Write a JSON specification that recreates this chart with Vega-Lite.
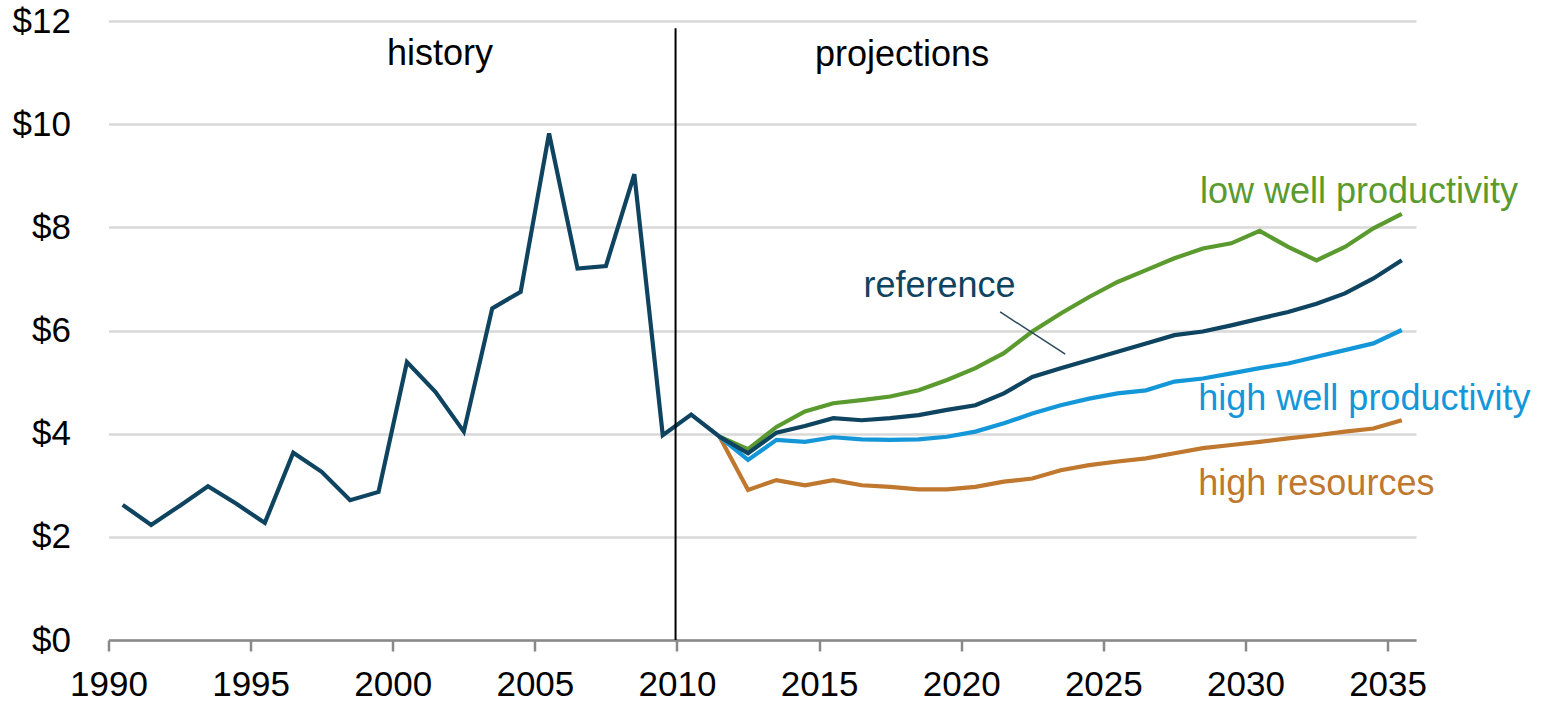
{
  "$schema": "https://vega.github.io/schema/vega-lite/v6.json",
  "autosize": {"type": "none"},
  "width": 1307.5,
  "height": 619,
  "padding": {"left": 108.5, "top": 21, "right": 140, "bottom": 64},
  "background": "white",
  "config": {"view": {"stroke": null}, "font": "Liberation Sans"},
  "datasets": {
    "prices": [
      {"series": "high resources", "year": 2011, "price": 3.94},
      {"series": "high resources", "year": 2012, "price": 2.91},
      {"series": "high resources", "year": 2013, "price": 3.10},
      {"series": "high resources", "year": 2014, "price": 3.00},
      {"series": "high resources", "year": 2015, "price": 3.10},
      {"series": "high resources", "year": 2016, "price": 3.00},
      {"series": "high resources", "year": 2017, "price": 2.97},
      {"series": "high resources", "year": 2018, "price": 2.92},
      {"series": "high resources", "year": 2019, "price": 2.92},
      {"series": "high resources", "year": 2020, "price": 2.97},
      {"series": "high resources", "year": 2021, "price": 3.07},
      {"series": "high resources", "year": 2022, "price": 3.13},
      {"series": "high resources", "year": 2023, "price": 3.29},
      {"series": "high resources", "year": 2024, "price": 3.39},
      {"series": "high resources", "year": 2025, "price": 3.46},
      {"series": "high resources", "year": 2026, "price": 3.52},
      {"series": "high resources", "year": 2027, "price": 3.62},
      {"series": "high resources", "year": 2028, "price": 3.72},
      {"series": "high resources", "year": 2029, "price": 3.78},
      {"series": "high resources", "year": 2030, "price": 3.84},
      {"series": "high resources", "year": 2031, "price": 3.91},
      {"series": "high resources", "year": 2032, "price": 3.97},
      {"series": "high resources", "year": 2033, "price": 4.04},
      {"series": "high resources", "year": 2034, "price": 4.10},
      {"series": "high resources", "year": 2035, "price": 4.26},
      {"series": "high well productivity", "year": 2011, "price": 3.94},
      {"series": "high well productivity", "year": 2012, "price": 3.49},
      {"series": "high well productivity", "year": 2013, "price": 3.88},
      {"series": "high well productivity", "year": 2014, "price": 3.84},
      {"series": "high well productivity", "year": 2015, "price": 3.93},
      {"series": "high well productivity", "year": 2016, "price": 3.89},
      {"series": "high well productivity", "year": 2017, "price": 3.88},
      {"series": "high well productivity", "year": 2018, "price": 3.89},
      {"series": "high well productivity", "year": 2019, "price": 3.94},
      {"series": "high well productivity", "year": 2020, "price": 4.04},
      {"series": "high well productivity", "year": 2021, "price": 4.20},
      {"series": "high well productivity", "year": 2022, "price": 4.39},
      {"series": "high well productivity", "year": 2023, "price": 4.55},
      {"series": "high well productivity", "year": 2024, "price": 4.68},
      {"series": "high well productivity", "year": 2025, "price": 4.78},
      {"series": "high well productivity", "year": 2026, "price": 4.84},
      {"series": "high well productivity", "year": 2027, "price": 5.01},
      {"series": "high well productivity", "year": 2028, "price": 5.07},
      {"series": "high well productivity", "year": 2029, "price": 5.17},
      {"series": "high well productivity", "year": 2030, "price": 5.27},
      {"series": "high well productivity", "year": 2031, "price": 5.36},
      {"series": "high well productivity", "year": 2032, "price": 5.49},
      {"series": "high well productivity", "year": 2033, "price": 5.62},
      {"series": "high well productivity", "year": 2034, "price": 5.75},
      {"series": "high well productivity", "year": 2035, "price": 6.01},
      {"series": "low well productivity", "year": 2011, "price": 3.94},
      {"series": "low well productivity", "year": 2012, "price": 3.70},
      {"series": "low well productivity", "year": 2013, "price": 4.13},
      {"series": "low well productivity", "year": 2014, "price": 4.43},
      {"series": "low well productivity", "year": 2015, "price": 4.59},
      {"series": "low well productivity", "year": 2016, "price": 4.65},
      {"series": "low well productivity", "year": 2017, "price": 4.72},
      {"series": "low well productivity", "year": 2018, "price": 4.84},
      {"series": "low well productivity", "year": 2019, "price": 5.04},
      {"series": "low well productivity", "year": 2020, "price": 5.27},
      {"series": "low well productivity", "year": 2021, "price": 5.56},
      {"series": "low well productivity", "year": 2022, "price": 5.98},
      {"series": "low well productivity", "year": 2023, "price": 6.33},
      {"series": "low well productivity", "year": 2024, "price": 6.65},
      {"series": "low well productivity", "year": 2025, "price": 6.94},
      {"series": "low well productivity", "year": 2026, "price": 7.17},
      {"series": "low well productivity", "year": 2027, "price": 7.40},
      {"series": "low well productivity", "year": 2028, "price": 7.59},
      {"series": "low well productivity", "year": 2029, "price": 7.69},
      {"series": "low well productivity", "year": 2030, "price": 7.93},
      {"series": "low well productivity", "year": 2031, "price": 7.62},
      {"series": "low well productivity", "year": 2032, "price": 7.36},
      {"series": "low well productivity", "year": 2033, "price": 7.62},
      {"series": "low well productivity", "year": 2034, "price": 7.98},
      {"series": "low well productivity", "year": 2035, "price": 8.26},
      {"series": "reference", "year": 1990, "price": 2.62},
      {"series": "reference", "year": 1991, "price": 2.23},
      {"series": "reference", "year": 1992, "price": 2.60},
      {"series": "reference", "year": 1993, "price": 2.98},
      {"series": "reference", "year": 1994, "price": 2.64},
      {"series": "reference", "year": 1995, "price": 2.27},
      {"series": "reference", "year": 1996, "price": 3.63},
      {"series": "reference", "year": 1997, "price": 3.26},
      {"series": "reference", "year": 1998, "price": 2.71},
      {"series": "reference", "year": 1999, "price": 2.87},
      {"series": "reference", "year": 2000, "price": 5.39},
      {"series": "reference", "year": 2001, "price": 4.81},
      {"series": "reference", "year": 2002, "price": 4.04},
      {"series": "reference", "year": 2003, "price": 6.43},
      {"series": "reference", "year": 2004, "price": 6.75},
      {"series": "reference", "year": 2005, "price": 9.82},
      {"series": "reference", "year": 2006, "price": 7.20},
      {"series": "reference", "year": 2007, "price": 7.25},
      {"series": "reference", "year": 2008, "price": 9.03},
      {"series": "reference", "year": 2009, "price": 3.97},
      {"series": "reference", "year": 2010, "price": 4.37},
      {"series": "reference", "year": 2011, "price": 3.94},
      {"series": "reference", "year": 2012, "price": 3.62},
      {"series": "reference", "year": 2013, "price": 4.02},
      {"series": "reference", "year": 2014, "price": 4.15},
      {"series": "reference", "year": 2015, "price": 4.30},
      {"series": "reference", "year": 2016, "price": 4.26},
      {"series": "reference", "year": 2017, "price": 4.30},
      {"series": "reference", "year": 2018, "price": 4.36},
      {"series": "reference", "year": 2019, "price": 4.46},
      {"series": "reference", "year": 2020, "price": 4.55},
      {"series": "reference", "year": 2021, "price": 4.78},
      {"series": "reference", "year": 2022, "price": 5.10},
      {"series": "reference", "year": 2023, "price": 5.27},
      {"series": "reference", "year": 2024, "price": 5.43},
      {"series": "reference", "year": 2025, "price": 5.59},
      {"series": "reference", "year": 2026, "price": 5.75},
      {"series": "reference", "year": 2027, "price": 5.91},
      {"series": "reference", "year": 2028, "price": 5.98},
      {"series": "reference", "year": 2029, "price": 6.10},
      {"series": "reference", "year": 2030, "price": 6.23},
      {"series": "reference", "year": 2031, "price": 6.36},
      {"series": "reference", "year": 2032, "price": 6.52},
      {"series": "reference", "year": 2033, "price": 6.72},
      {"series": "reference", "year": 2034, "price": 7.01},
      {"series": "reference", "year": 2035, "price": 7.36}
    ],
    "periods": [
      {"label": "history", "series": "period", "year": 2001.16, "price": 11.14},
      {"label": "projections", "series": "period", "year": 2017.42, "price": 11.12}
    ],
    "serieslabels": [
      {"label": "low well productivity", "series": "low well productivity", "year": 2027.9, "price": 8.48},
      {"label": "reference", "series": "reference", "year": 2016.06, "price": 6.65},
      {"label": "high well productivity", "series": "high well productivity", "year": 2027.84, "price": 4.46},
      {"label": "high resources", "series": "high resources", "year": 2027.84, "price": 2.81}
    ],
    "divider": [
      {"year": 2009.45, "low": 0, "high": 11.86}
    ],
    "leader": [
      {"year": 2020.87, "price": 6.36, "year2": 2023.16, "price2": 5.54}
    ]
  },
  "layer": [
    {
      "data": {"name": "prices"},
      "mark": {"type": "line", "strokeWidth": 4.2, "strokeJoin": "miter", "clip": false},
      "encoding": {
        "x": {
          "field": "year", "type": "quantitative",
          "scale": {"domain": [1989.5, 2035.5], "nice": false, "zero": false},
          "axis": {
            "title": null,
            "values": [1989.5, 1994.5, 1999.5, 2004.5, 2009.5, 2014.5, 2019.5, 2024.5, 2029.5, 2034.5],
            "labelExpr": "format(datum.value + 0.5, 'd')",
            "grid": false,
            "domainColor": "#898989", "domainWidth": 2.5,
            "tickColor": "#898989", "tickWidth": 2.5, "tickSize": 11,
            "labelFontSize": 35, "labelColor": "#000000", "labelFont": "Liberation Sans",
            "labelPadding": 16, "labelFlush": false, "labelOverlap": false
          }
        },
        "y": {
          "field": "price", "type": "quantitative",
          "scale": {"domain": [0, 12], "nice": false},
          "axis": {
            "title": null,
            "values": [0, 2, 4, 6, 8, 10, 12],
            "labelExpr": "'$' + datum.value",
            "grid": true, "gridColor": "#d9d9d9", "gridWidth": 2.5,
            "domain": false, "ticks": false,
            "labelFontSize": 35, "labelColor": "#000000", "labelFont": "Liberation Sans",
            "labelPadding": 38
          }
        },
        "color": {
          "field": "series", "type": "nominal",
          "scale": {
            "domain": ["high resources", "high well productivity", "low well productivity", "reference", "period"],
            "range": ["#c0772e", "#1497d9", "#5a9a2e", "#0f4461", "#000000"]
          },
          "legend": null
        },
        "order": {"field": "year", "type": "quantitative"}
      }
    },
    {
      "data": {"name": "divider"},
      "mark": {"type": "rule", "color": "#000000", "strokeWidth": 2},
      "encoding": {
        "x": {"field": "year", "type": "quantitative"},
        "y": {"field": "low", "type": "quantitative"},
        "y2": {"field": "high"}
      }
    },
    {
      "data": {"name": "leader"},
      "mark": {"type": "rule", "color": "#2c4a5c", "strokeWidth": 1.5},
      "encoding": {
        "x": {"field": "year", "type": "quantitative"},
        "y": {"field": "price", "type": "quantitative"},
        "x2": {"field": "year2"},
        "y2": {"field": "price2"}
      }
    },
    {
      "data": {"name": "periods"},
      "mark": {"type": "text", "align": "center", "baseline": "alphabetic", "fontSize": 36, "font": "Liberation Sans"},
      "encoding": {
        "x": {"field": "year", "type": "quantitative"},
        "y": {"field": "price", "type": "quantitative"},
        "text": {"field": "label"},
        "color": {"field": "series", "type": "nominal", "legend": null}
      }
    },
    {
      "data": {"name": "serieslabels"},
      "mark": {"type": "text", "align": "left", "baseline": "alphabetic", "fontSize": 36, "font": "Liberation Sans"},
      "encoding": {
        "x": {"field": "year", "type": "quantitative"},
        "y": {"field": "price", "type": "quantitative"},
        "text": {"field": "label"},
        "color": {"field": "series", "type": "nominal", "legend": null}
      }
    }
  ]
}
